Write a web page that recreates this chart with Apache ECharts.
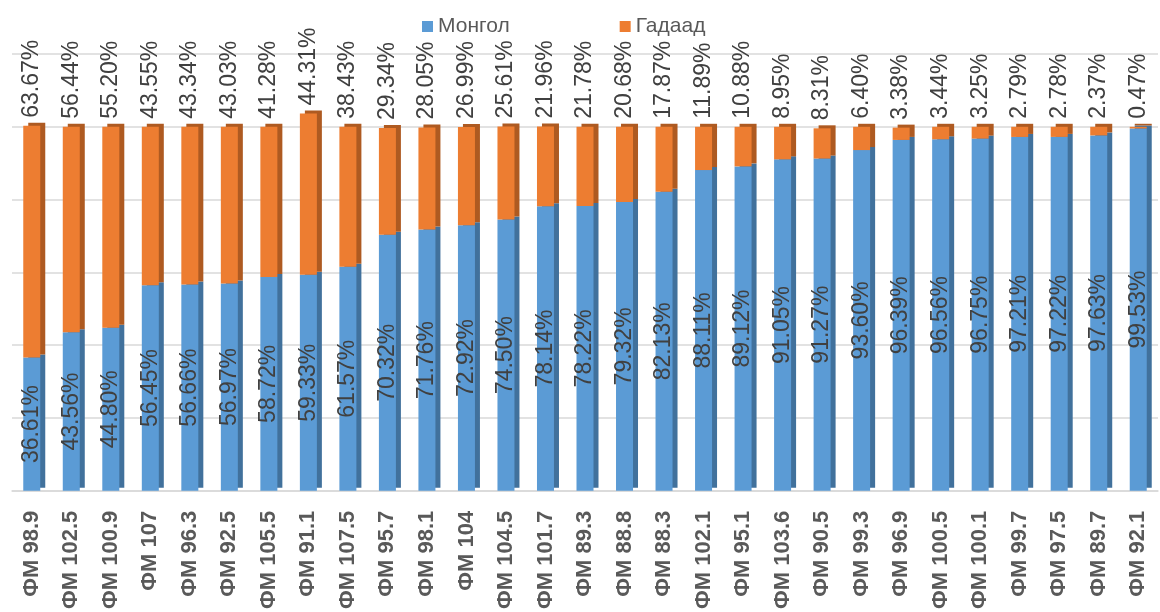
<!DOCTYPE html>
<html>
<head>
<meta charset="utf-8">
<script src="https://cdn.jsdelivr.net/npm/echarts@6/dist/echarts.min.js"></script>
<style>
  html, body { margin: 0; padding: 0; background: #fff; }
  #main { width: 1160px; height: 612px; }
</style>
</head>
<body>
<div id="main"></div>
<script>
// радио станцууд
var categories = ['ФМ 98.9', 'ФМ 102.5', 'ФМ 100.9', 'ФМ 107', 'ФМ 96.3', 'ФМ 92.5', 'ФМ 105.5', 'ФМ 91.1',
    'ФМ 107.5', 'ФМ 95.7', 'ФМ 98.1', 'ФМ 104', 'ФМ 104.5', 'ФМ 101.7', 'ФМ 89.3', 'ФМ 88.8', 'ФМ 88.3',
    'ФМ 102.1', 'ФМ 95.1', 'ФМ 103.6', 'ФМ 90.5', 'ФМ 99.3', 'ФМ 96.9', 'ФМ 100.5', 'ФМ 100.1', 'ФМ 99.7',
    'ФМ 97.5', 'ФМ 89.7', 'ФМ 92.1'];
var mongol = [36.61, 43.56, 44.80, 56.45, 56.66, 56.97, 58.72, 59.33, 61.57, 70.32, 71.76, 72.92, 74.50, 78.14,
    78.22, 79.32, 82.13, 88.11, 89.12, 91.05, 91.27, 93.60, 96.39, 96.56, 96.75, 97.21, 97.22, 97.63, 99.53];
var gadaad = [63.67, 56.44, 55.20, 43.55, 43.34, 43.03, 41.28, 44.31, 38.43, 29.34, 28.05, 26.99, 25.61, 21.96,
    21.78, 20.68, 17.87, 11.89, 10.88, 8.95, 8.31, 6.40, 3.38, 3.44, 3.25, 2.79, 2.78, 2.37, 0.47];
var yTicks = [0, 20, 40, 60, 80, 100, 120];

var font = '"Liberation Sans", Arial, sans-serif';
var pct = function (p) { return p.value.toFixed(2) + '%'; };

var myChart = echarts.init(document.getElementById('main'));
var option = {
    animation: false,
    textStyle: { fontFamily: font },
    legend: {
        left: 417,
        top: 11,
        icon: 'rect',
        itemWidth: 11,
        itemHeight: 11,
        itemGap: 110,
        textStyle: { fontSize: 21, color: '#595959', fontFamily: font },
        data: ['Монгол', 'Гадаад']
    },
    grid: { left: 12, right: 2, top: 54, bottom: 117, containLabel: false },
    xAxis: {
        type: 'category',
        data: categories,
        axisTick: { show: false },
        axisLine: { lineStyle: { color: '#D9D9D9', width: 1.5 } },
        axisLabel: {
            interval: 0,
            rotate: 90,
            margin: 20,
            fontSize: 22,
            fontWeight: 'bold',
            color: '#595959',
            fontFamily: font
        }
    },
    yAxis: {
        type: 'value',
        min: yTicks[0],
        max: yTicks[yTicks.length - 1],
        interval: yTicks[1] - yTicks[0],
        axisLabel: { show: false },
        axisLine: { show: false },
        axisTick: { show: false },
        splitLine: { lineStyle: { color: '#D9D9D9', width: 1.5 } }
    },
    series: [
        {
            name: 'Монгол',
            type: 'bar',
            stack: 'total',
            barWidth: 17,
            data: mongol,
            itemStyle: {
                color: '#5B9BD5',
                shadowColor: '#41719C',
                shadowOffsetX: 5,
                shadowOffsetY: -3,
                shadowBlur: 0
            },
            label: {
                show: true,
                position: 'inside',
                rotate: 90,
                fontSize: 23,
                color: '#404040',
                fontFamily: font,
                formatter: pct
            }
        },
        {
            name: 'Гадаад',
            type: 'bar',
            stack: 'total',
            barWidth: 17,
            data: gadaad,
            itemStyle: {
                color: '#ED7D31',
                shadowColor: '#AE5A21',
                shadowOffsetX: 5,
                shadowOffsetY: -3,
                shadowBlur: 0
            },
            label: {
                show: true,
                position: 'top',
                rotate: 90,
                align: 'left',
                verticalAlign: 'middle',
                distance: 6,
                offset: [2, 0],
                fontSize: 23,
                color: '#404040',
                fontFamily: font,
                formatter: pct
            }
        }
    ]
};
myChart.setOption(option);
</script>
</body>
</html>
